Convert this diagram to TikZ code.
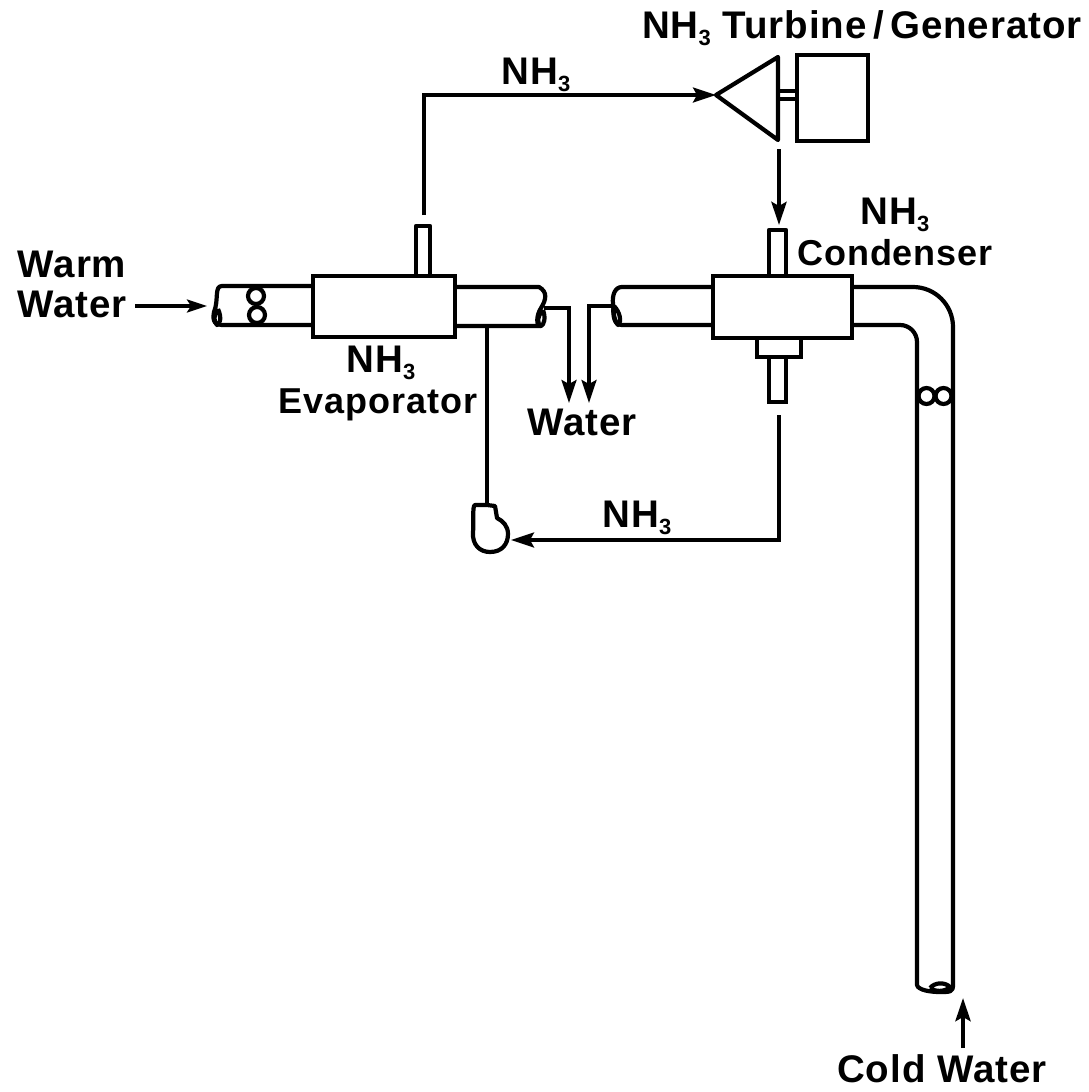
\documentclass[tikz,border=0pt]{standalone}
\usepackage{fontspec}
\setmainfont{Liberation Sans}[LetterSpace=2.5]
\usetikzlibrary{arrows.meta}
\newcommand{\nhthree}{NH\raisebox{-0.2em}{\fontsize{22}{22}\selectfont 3}}
\tikzset{
  heavy/.style={line width=4.2pt,black,line join=round},
  flow/.style={line width=3.4pt,black,line join=miter,-{Stealth[length=23pt,width=15pt,inset=4pt]}},
  plain/.style={line width=3.2pt,black},
  equip/.style={draw=black,line width=4.6pt,fill=white,inner sep=0pt},
  lab/.style={font=\fontsize{38.5}{38.5}\selectfont\bfseries,anchor=base,inner sep=0pt,text=black},
  labn/.style={lab,font=\fontsize{36}{36}\selectfont\bfseries},
  meter/.style={circle,draw=black,line width=4.2pt,fill=white,minimum size=16pt,inner sep=0pt},
}
\begin{document}
\begin{tikzpicture}[x=1pt,y=-1pt]
\useasboundingbox (0,0) rectangle (1088,1092);
\fill[white] (0,0) rectangle (1088,1092);

% --- evaporator: pipes
\draw[heavy] (313,286) -- (222,286) .. controls (214,286) and (219,300) .. (214,312)
   .. controls (212,322) and (216,325) .. (222,325) -- (313,325);
\draw[heavy] (218,309) .. controls (222,318) and (220,324) .. (217,325)
   .. controls (213,322) and (214,314) .. (218,309);
\draw[heavy] (455,287) -- (539,287) .. controls (548,292) and (546,300) .. (541,308)
   .. controls (536,316) and (536,326) .. (541,326) -- (455,326);
\draw[heavy] (543,310) .. controls (546,318) and (544,325) .. (541,326)
   .. controls (536,324) and (538,315) .. (543,310);
\node[meter] (wm1) at (256,296) {};
\node[meter] (wm2) at (257,315) {};
\draw[heavy,fill=white] (416,276) -- (416,226) -- (430,226) -- (430,276);
\node[equip,minimum width=142pt,minimum height=61pt] (evap) at (384,306.5) {};

% --- condenser: pipes
\draw[heavy] (713,287) -- (622,287) .. controls (615,287) and (612,295) .. (613,304)
   .. controls (614,316) and (614,325) .. (622,325) -- (713,325);
\draw[heavy] (614,306) .. controls (620,312) and (622,322) .. (618,325)
   .. controls (614,322) and (612,312) .. (614,306);
\draw[heavy] (852,287) -- (913,287) arc[start angle=-90,end angle=0,radius=40] -- (953,985)
   .. controls (953,992) and (950,992) .. (940,992)
   .. controls (930,992) and (918,990) .. (917,985) -- (917,342) arc[start angle=0,end angle=-90,radius=17] -- (852,325);
\draw[heavy] (930,988) .. controls (935,982) and (945,982) .. (950,987)
   .. controls (945,992) and (935,992) .. (930,988);
\node[meter] (cm1) at (926.5,396) {};
\node[meter] (cm2) at (943.5,396) {};
\draw[heavy] (769,276) -- (769,230) -- (786,230) -- (786,276);
\node[equip,minimum width=139pt,minimum height=62pt] (cond) at (782.5,307) {};
\node[equip,minimum width=44pt,minimum height=19pt] (trap) at (779,347.5) {};
\node[equip,minimum width=17pt,minimum height=45pt] (tail) at (777.5,379.5) {};

% --- turbine and generator
\node[equip,minimum width=71pt,minimum height=86pt] (gen) at (832.5,98) {};
\draw[heavy,fill=white] (778,57) -- (778,140) -- (716,95) -- cycle;
\coordinate (apex) at (716,95);
\draw[plain] (778,91) -- (797,91) (778,99) -- (797,99);

% --- pump
\draw[heavy,fill=white] (487,505) -- (475,505) .. controls (472,505) and (474,525) .. (473,532)
   .. controls (472,545) and (480,552) .. (490,552)
   .. controls (502,552) and (508,544) .. (508,534)
   .. controls (508,526) and (503,521) .. (497,518) -- (495,506) -- cycle;
\coordinate (pumpin) at (511,540);
\coordinate (pumptop) at (487,505);

% --- connectors
\coordinate (evapout) at (424,215);
\draw[flow] (evapout) |- (apex);
\coordinate (turbout) at (779,149);
\coordinate (condin) at (779,225);
\draw[flow,line width=4.2pt] (turbout) -- (condin);
\coordinate (condout) at (779,415);
\draw[flow] (condout) |- (pumpin);
\coordinate (evapdown) at (487,326);
\draw[plain,line width=4pt] (evapdown) -- (pumptop);
\coordinate (we1) at (544,308);
\coordinate (wa1) at (569,403);
\draw[flow] (we1) -| (wa1);
\coordinate (we2) at (613,306);
\coordinate (wa2) at (589,403);
\draw[flow] (we2) -| (wa2);
\coordinate (warmin) at (135,306);
\coordinate (warmend) at (207,306);
\draw[flow,-{Stealth[length=20pt,width=13pt,inset=4pt]}] (warmin) -- (warmend);
\coordinate (coldin) at (963,1048);
\coordinate (coldend) at (963,998);
\draw[flow,line width=4.2pt] (coldin) -- (coldend);

% --- labels
\node[lab] (l1) at (72,277) {Warm};
\node[lab] (l2) at (72,317) {Water};
\node[lab] (l3) at (381,372) {\nhthree};
\node[labn] (l4) at (378,413) {Evaporator};
\node[lab] (l5) at (536,84) {\nhthree};
\node[lab] (l6) at (862,38) {\nhthree{} Turbine\,/\,Generator};
\node[lab] (l7) at (895,224) {\nhthree};
\node[labn] (l8) at (895,265) {Condenser};
\node[lab] (l9) at (582,435) {Water};
\node[lab] (l10) at (637,527) {\nhthree};
\node[lab] (l11) at (942,1082) {Cold Water};
\end{tikzpicture}
\end{document}
